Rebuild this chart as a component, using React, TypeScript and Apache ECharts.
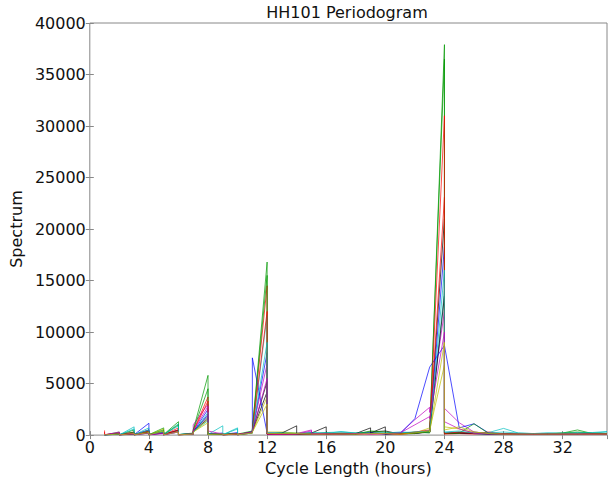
import React, { useEffect, useRef } from "react";
import * as echarts from "echarts";

// Integer cycle lengths (hours) at which each curve has its two values
const cycleHours = [1,2,3,4,5,6,7,8,9,10,11,12,13,14,15,16,17,18,19,20,21,22,23,24,25,26,27,28,29,30,31,32,33,34,35];

const xTicks = [0, 4, 8, 12, 16, 20, 24, 28, 32];
const yTicks = [0, 5000, 10000, 15000, 20000, 25000, 30000, 35000, 40000];

// Each curve: value arriving at an integer (a) and value leaving it (b)
const s1a = [120,80,250,1150,200,500,150,2500,200,250,350,8000,100,150,120,100,150,100,200,150,120,250,400,18300,250,150,120,100,80,100,90,100,120,100,80];
const s1b = [20,30,40,60,30,40,300,80,50,40,400,100,100,150,120,100,150,100,200,150,120,250,350,200,250,150,120,100,80,100,90,100,120,100,80];
const s2a = [100,300,500,400,700,1300,200,5800,150,100,400,16800,200,150,100,150,100,200,300,100,150,300,200,37900,200,300,150,100,120,100,150,200,500,150,100];
const s2b = [10,30,50,40,60,50,500,100,60,50,500,150,200,150,100,150,100,200,300,100,150,300,150,150,200,300,150,100,120,100,150,200,500,150,100];
const s3a = [450,200,300,500,300,700,100,3700,100,150,300,14500,100,80,100,80,120,100,150,120,100,200,300,23100,150,100,200,100,80,100,90,100,80,120,100];
const s3b = [50,40,30,50,20,30,400,60,30,40,400,100,100,80,100,80,120,100,150,120,100,200,250,100,150,100,200,100,80,100,90,100,80,120,100];
const s4a = [100,150,800,700,400,1100,150,1400,900,600,300,11600,250,200,250,150,350,200,250,200,300,200,300,14000,300,200,250,650,200,150,200,150,250,200,300];
const s4b = [10,20,40,30,40,60,300,60,30,50,350,200,250,200,250,150,350,200,250,200,300,200,250,250,300,200,250,650,200,150,200,150,250,200,300];
const s5a = [150,200,100,300,250,400,100,3000,100,150,200,6900,100,150,500,100,150,100,200,150,200,1500,2700,12000,1200,300,150,100,80,100,90,100,80,100,80];
const s5b = [20,30,20,40,20,30,1000,50,30,30,500,80,100,150,80,100,150,100,200,150,200,1500,2200,2600,1200,300,150,100,80,100,90,100,80,100,80];
const s6a = [100,150,200,300,600,400,100,1500,100,100,200,3700,300,200,150,100,150,100,200,150,100,200,700,6800,600,200,150,100,100,100,100,100,100,100,100];
const s6b = [20,30,20,30,40,30,300,50,30,30,300,300,300,200,150,100,150,100,200,150,100,200,500,800,600,200,150,100,100,100,100,100,100,100,100];
const s7a = [80,100,150,300,300,500,100,1800,100,100,250,5200,200,900,200,800,200,150,700,800,200,150,400,13500,200,150,100,150,100,100,100,100,100,150,100];
const s7b = [10,20,20,30,40,30,400,60,20,30,400,100,200,100,200,100,200,150,200,100,200,150,300,150,200,150,100,150,100,100,100,100,100,150,100];
const s8a = [100,150,200,500,300,300,100,2000,150,100,300,200,150,100,150,100,100,150,200,100,150,1600,6600,8700,700,1100,200,100,100,100,100,100,100,100,100];
const s8b = [20,20,30,40,30,50,300,100,40,30,7500,150,150,100,150,100,100,150,200,100,150,1600,6600,8700,700,1100,200,100,100,100,100,100,100,100,100];
const s9a = [80,200,300,400,500,1000,150,4500,100,150,300,15500,150,100,150,200,150,100,400,300,150,200,300,36500,200,1100,150,100,100,150,100,200,300,200,150];
const s9b = [10,20,40,30,50,40,500,80,40,30,600,150,150,100,150,200,150,100,400,300,150,200,250,150,200,1100,150,100,100,150,100,200,300,200,150];
const s10a = [300,150,200,400,250,500,100,3300,150,100,250,12000,100,100,150,100,100,150,100,150,100,300,500,31000,300,150,300,100,100,100,100,100,100,100,100];
const s10b = [30,20,30,40,30,40,350,60,30,40,450,100,100,100,150,100,100,150,100,150,100,300,300,150,300,150,300,100,100,100,100,100,100,100,100];
const s11a = [100,100,600,500,300,900,100,2200,150,700,200,9000,200,150,200,250,300,200,150,200,250,300,400,16000,400,200,200,300,200,150,200,200,200,250,350];
const s11b = [10,20,30,40,30,50,250,60,40,50,300,200,200,150,200,250,300,200,150,200,250,300,300,300,400,200,200,300,200,150,200,200,200,250,350];
const s12a = [100,300,150,200,150,300,100,2800,100,100,300,5500,100,100,400,150,100,150,100,150,200,1000,1800,10000,600,200,100,100,100,100,100,100,100,100,100];
const s12b = [20,30,20,30,20,40,400,400,30,30,350,100,100,100,150,150,100,150,100,150,200,1000,1600,1300,600,200,100,100,100,100,100,100,100,100,100];
const s13a = [100,100,150,250,400,300,100,1200,100,100,200,3000,150,150,100,100,100,100,150,150,100,200,400,9000,800,300,150,100,100,100,100,100,100,100,100];
const s13b = [20,20,30,30,40,30,300,60,30,30,300,150,150,150,100,100,100,100,150,150,100,200,300,500,800,300,150,100,100,100,100,100,100,100,100];
const s14a = [50,100,100,200,200,400,100,1600,100,100,200,4200,100,150,100,200,100,100,300,400,100,150,300,21000,200,150,100,100,100,100,100,100,100,100,100];
const s14b = [10,20,20,30,30,40,350,60,30,30,350,100,100,150,100,200,100,100,300,400,100,150,250,150,200,150,100,100,100,100,100,100,100,100,100];

const curves = [
  [s14a, s14b],
  [s1a, s1b], [s2a, s2b], [s3a, s3b], [s4a, s4b], [s5a, s5b], [s6a, s6b], [s7a, s7b],
  [s8a, s8b], [s9a, s9b], [s10a, s10b], [s11a, s11b], [s12a, s12b], [s13a, s13b],
];
const colours = ["#000000", "#0000ff", "#009900", "#ff0000", "#00bfbf", "#bf00bf", "#bfbf00", "#000000",
  "#0000ff", "#009900", "#ff0000", "#00bfbf", "#bf00bf", "#bfbf00"];

const FONT = "DejaVu Sans";

export default function App() {
  const ref = useRef<HTMLDivElement>(null);
  useEffect(() => {
    if (!ref.current) return;
    const chart = echarts.init(ref.current, null, { renderer: "svg" });
    const series = curves.map(([a, b], i) => {
      const data: number[][] = [];
      cycleHours.forEach((h, k) => {
        data.push([h, a[k]]);
        data.push([h, b[k]]);
      });
      return {
        type: "line",
        data,
        symbol: "none",
        showSymbol: false,
        silent: true,
        lineStyle: { color: colours[i], width: 1, opacity: 0.7 },
        itemStyle: { color: colours[i] },
      };
    });
    const axisText = { fontFamily: FONT, fontSize: 16, color: "#111" };
    chart.setOption({
      animation: false,
      grid: { left: 87, right: 1, top: 23, bottom: 41, show: true, borderColor: "#888", borderWidth: 1 },
      graphic: [
        {
          type: "text",
          x: 347,
          y: 12,
          style: { text: "HH101 Periodogram", font: `16px '${FONT}'`, fill: "#111", textAlign: "center", textVerticalAlign: "middle" },
        },
      ],
      xAxis: [
        {
          type: "value",
          min: 0,
          max: 35,
          interval: 4,
          name: "Cycle Length (hours)",
          nameLocation: "middle",
          nameGap: 20,
          nameTextStyle: axisText,
          axisLine: { show: false },
          axisTick: { show: true, inside: true, length: 4, lineStyle: { color: "#888" } },
          axisLabel: { ...axisText, margin: 4, showMaxLabel: false, formatter: (v: number) => (xTicks.includes(v) ? String(v) : "") },
          splitLine: { show: false },
        },
        {
          type: "value",
          position: "top",
          min: 0,
          max: 35,
          interval: 4,
          axisLine: { show: false },
          axisTick: { show: true, inside: true, length: 4, lineStyle: { color: "#888" } },
          axisLabel: { show: false },
          splitLine: { show: false },
        },
      ],
      yAxis: [
        {
          type: "value",
          min: 0,
          max: 40000,
          interval: 5000,
          name: "Spectrum",
          nameLocation: "middle",
          nameGap: 58,
          nameRotate: 90,
          nameTextStyle: axisText,
          axisLine: { show: false },
          axisTick: { show: true, inside: true, length: 4, lineStyle: { color: "#888" } },
          axisLabel: { ...axisText, margin: 4, formatter: (v: number) => (yTicks.includes(v) ? String(v) : "") },
          splitLine: { show: false },
        },
        {
          type: "value",
          position: "right",
          min: 0,
          max: 40000,
          interval: 5000,
          axisLine: { show: false },
          axisTick: { show: true, inside: true, length: 4, lineStyle: { color: "#888" } },
          axisLabel: { show: false },
          splitLine: { show: false },
        },
      ],
      series,
    });
    return () => chart.dispose();
  }, []);
  return <div ref={ref} style={{ position: "absolute", left: 0, top: 0, width: 608, height: 481 }} />;
}
